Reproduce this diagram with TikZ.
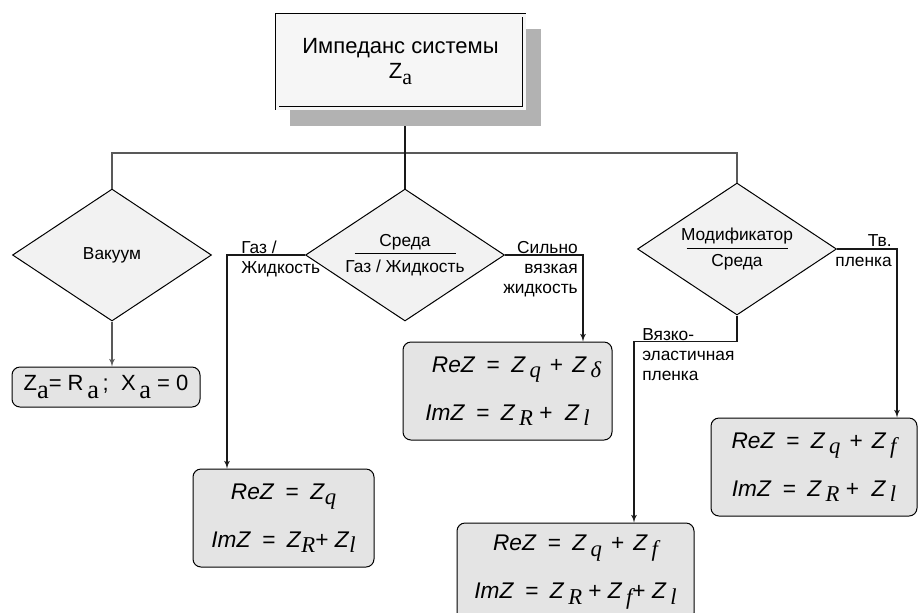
\documentclass[tikz,border=0pt]{standalone}
\usepackage{fontspec}
\usepackage{graphicx}
\setmainfont{Liberation Sans}
\newfontfamily\subfnt{Liberation Serif}
\usetikzlibrary{shapes, arrows, positioning, calc}
\newlength\px
\setlength\px{0.75pt}
\newcommand{\asub}{\raisebox{-0.5ex}{\subfnt a}}
\newcommand{\bigasub}{\raisebox{-0.65ex}{\scalebox{1.2}{\subfnt a}}}
\newcommand{\zsub}[1]{\raisebox{-0.45ex}{\subfnt\itshape #1}}
\newcommand{\reZ}{\textit{ReZ}}
\newcommand{\imZ}{\textit{ImZ}}
\newcommand{\zZ}{\textit{Z}}
\newcommand{\eqs}{\hspace{0.5em}=\hspace{0.5em}}
\newcommand{\fracbar}{\rule[0.5ex]{101\px}{0.8\px}}
\tikzset{
    titlebox/.style={
        rectangle,
        draw=black,
        line width=0.8\px,
        double=gray!7,
        double distance=3\px,
        fill=gray!7,
        minimum width=247\px,
        minimum height=93\px,
        align=center,
        font=\fontsize{16.5}{19}\selectfont,
    },
    shadowbox/.style={
        rectangle,
        fill=gray!60,
        minimum width=251\px,
        minimum height=97\px,
    },
    decision/.style={
        diamond,
        aspect=1.5,
        draw=black,
        line width=1\px,
        fill=gray!10,
        minimum width=199\px,
        minimum height=132\px,
        inner sep=0pt,
        align=center,
        font=\fontsize{13}{14}\selectfont,
    },
    result/.style={
        rectangle,
        rounded corners=8\px,
        draw=black,
        line width=1\px,
        fill=gray!21,
        align=center,
        font=\fontsize{17}{36}\selectfont,
    },
    branch/.style={
        inner sep=0pt,
        font=\fontsize{13}{15}\selectfont,
    },
    bus/.style={draw=black!65, line width=1.3\px},
    arrow/.style={->, draw=black!90, line width=1.3\px},
}

\begin{document}
\begin{tikzpicture}[x=0.75pt, y=-0.75pt, >=latex']
      \useasboundingbox (0,0) rectangle (918,612);

      % top block
      \node [shadowbox] (topshadow) at (415.5,77.5) {};
      \node [titlebox] (top) at (400.5,61.5) {Импеданс системы\\Z\asub};

      % decisions
      \node [decision] (vak) at (112,255) {Вакуум};
      \node [decision] (sreda) at (405,255)
            {Среда\\[-6\px]\fracbar\\[-5\px]Газ / Жидкость};
      \node [decision] (mod) at (737,249)
            {Модификатор\\[-6\px]\fracbar\\[-5\px]Среда};

      % results
      \node [result, minimum width=188\px, minimum height=40\px, font=\fontsize{16.5}{20}\selectfont] (za) at (106,387)
            {Z\bigasub= R\,\bigasub\,;\ \ X\,\bigasub\ = 0};
      \node [result, minimum width=181\px, minimum height=98\px] (gas) at (283.5,518)
            {\reZ\eqs\zZ\zsub{q}\\\imZ\eqs\zZ\zsub{R}+ \zZ\zsub{l}};
      \node [result, minimum width=209\px, minimum height=98\px] (visc) at (507.5,391)
            {\hspace*{18\px}\reZ\eqs\zZ\,\zsub{q}\hspace{0.4em}+\hspace{0.4em}\zZ\,\zsub{δ}\\\imZ\eqs\zZ\,\zsub{R} + \ \zZ\,\zsub{l}};
      \node [result, minimum width=206\px, minimum height=98\px] (film) at (814,467)
            {\reZ\eqs\zZ\,\zsub{q}\hspace{0.4em}+\hspace{0.4em}\zZ\,\zsub{f}\\\imZ\eqs\zZ\,\zsub{R} + \ \zZ\,\zsub{l}};
      \node [result, minimum width=237\px, minimum height=98\px] (ve) at (575.5,572)
            {\reZ\eqs\zZ\,\zsub{q}\hspace{0.4em}+\hspace{0.4em}\zZ\,\zsub{f}\\\imZ\eqs\zZ\,\zsub{R} + \zZ\,\zsub{f}+ \zZ\,\zsub{l}};

      \coordinate (busmid) at (405,153);
      \coordinate (gasx) at (227,0);
      \coordinate (viscx) at (583,0);
      \coordinate (filmx) at (897,0);
      \coordinate (vex) at (634,0);

      % connectors
      \draw [bus] (vak.north) |- (busmid) -| (mod.north);
      \draw [bus, draw=black!90, line width=2.2\px] (topshadow.south -| busmid) -- (sreda.north);

      \draw [arrow, draw=black!65] (vak.south) -- (vak.south |- za.north);
      \draw [arrow] (sreda.west) -| (gasx |- gas.north);
      \draw [arrow] (sreda.east) -| (viscx |- visc.north);
      \draw [arrow] (mod.east) -| (filmx |- film.north);
      \draw [arrow] (mod.south) -- ++(0,26) -| (vex |- ve.north);

      % branch labels
      \node [branch, anchor=base west, align=left] (lgas) at (241,273) {Газ /\\Жидкость};
      \node [branch, anchor=base east, align=right] (lvisc) at (578,293) {Сильно\\вязкая\\жидкость};
      \node [branch, anchor=base east, align=right] (lfilm) at (892,266) {Тв.\\пленка};
      \node [branch, anchor=base west, align=left] (lve) at (642,380) {Вязко-\\эластичная\\пленка};

    \end{tikzpicture}
\end{document}
